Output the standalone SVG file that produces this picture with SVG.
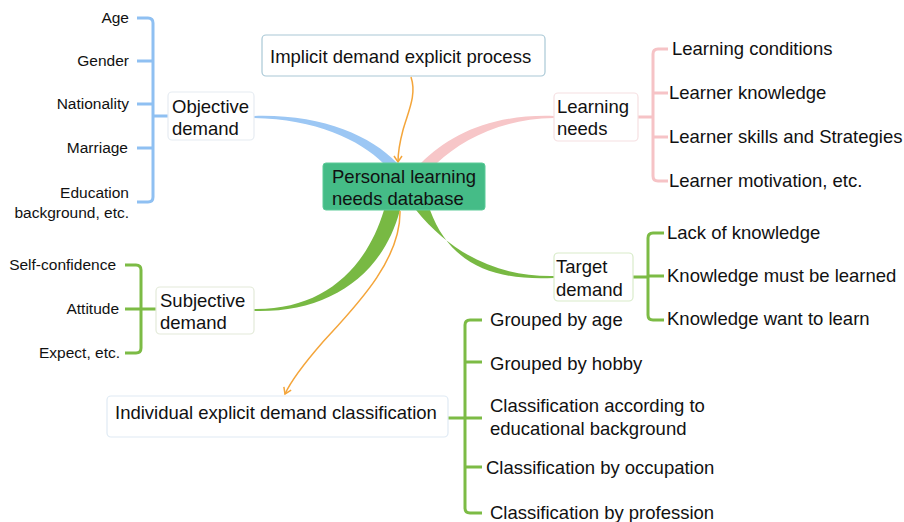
<svg xmlns="http://www.w3.org/2000/svg" width="904" height="522" viewBox="0 0 904 522">
<style>
text{font-family:"Liberation Sans",Arial,sans-serif;fill:#111}
.m{font-size:18.5px}
.s{font-size:15.5px}
.r{text-anchor:end}
.br{fill:none;stroke-width:3;stroke-linecap:butt}
.blue{stroke:#8fc0f2}
.pink{stroke:#f6c3c6}
.green{stroke:#7cbb45}
.box{fill:#fff;stroke-width:1.2}
.orange{fill:none;stroke:#f4a53a;stroke-width:1.5}
</style>
<defs>
<marker id="ah" markerWidth="10" markerHeight="10" refX="7" refY="5" orient="auto" markerUnits="userSpaceOnUse">
<path d="M1,1 L7,5 L1,9" fill="none" stroke="#f4a53a" stroke-width="1.5"/>
</marker>
</defs>
<rect width="904" height="522" fill="#fff"/>
<g id="connectors">
<path d="M254,116 C320,114 370,135 397,163 L383,163 C360,140 315,119 254,118 Z" fill="#9cc7f4"/>
<path d="M554,116 C490,114 450,135 421,163 L437,163 C462,140 500,119 554,118 Z" fill="#f7c6c8"/>
<path d="M254,309 C322,310 366,270 384,210 L400,210 C382,278 326,313 254,311 Z" fill="#78b943"/>
<path d="M416,210 C452,255 500,277 554,276 L554,278 C495,281 450,265 430,210 Z" fill="#78b943"/>
<path class="orange" d="M411,77 C417,95 408,112 403,130 C399,145 398,152 398,162" marker-end="url(#ah)"/>
<path class="orange" d="M400,211 C401,262 352,310 322,343 C302,366 291,381 285,394" marker-end="url(#ah)"/>
<path class="br blue" d="M137,18 H148 Q153,18 153,23 V197 Q153,202 148,202 H137 M137,61 H153 M137,104 H153 M137,148 H153 M153,116 H168"/>
<path class="br pink" d="M668,49 H658 Q653,49 653,54 V176 Q653,181 658,181 H668 M653,93 H668 M653,137 H668 M638,117 H653"/>
<path class="br green" d="M664,233 H653 Q648,233 648,238 V315 Q648,320 653,320 H664 M648,276 H664 M633,277 H648"/>
<path class="br green" d="M125,265 H136 Q141,265 141,270 V348 Q141,353 136,353 H125 M125,309 H156"/>
<path class="br green" d="M482,320 H470 Q465,320 465,325 V508 Q465,513 470,513 H482 M465,362 H482 M448,418 H482 M465,467 H482"/>
</g>
<g id="center">
<rect x="323" y="163" width="162" height="47" rx="3" fill="#45bc87" stroke="#5ccb98"/>
<text class="m" x="332" y="183">Personal learning</text>
<text class="m" x="332" y="205">needs database</text>
</g>
<g id="implicit">
<rect class="box" x="262" y="35" width="283" height="41" rx="4" stroke="#a9c8d6"/>
<text class="m" x="270" y="63">Implicit demand explicit process</text>
</g>
<g id="objective">
<rect class="box" x="168" y="92" width="86" height="48" rx="4" stroke="#e6ecf2"/>
<text class="m" x="172" y="113">Objective</text>
<text class="m" x="172" y="135">demand</text>
</g>
<g id="objective-items">
<text class="s r" x="129" y="23">Age</text>
<text class="s r" x="129" y="66">Gender</text>
<text class="s r" x="129" y="109">Nationality</text>
<text class="s r" x="128" y="153">Marriage</text>
<text class="s r" x="129" y="198">Education</text>
<text class="s r" x="129" y="218">background, etc.</text>
</g>
<g id="learning-needs">
<rect class="box" x="554" y="93" width="84" height="48" rx="4" stroke="#f6e0e2"/>
<text class="m" x="557" y="113">Learning</text>
<text class="m" x="557" y="135">needs</text>
</g>
<g id="learning-items">
<text class="m" x="672" y="55">Learning conditions</text>
<text class="m" x="669" y="99">Learner knowledge</text>
<text class="m" x="669" y="143">Learner skills and Strategies</text>
<text class="m" x="669" y="187">Learner motivation, etc.</text>
</g>
<g id="target">
<rect class="box" x="554" y="253" width="79" height="48" rx="4" stroke="#d9ecca"/>
<text class="m" x="556" y="273">Target</text>
<text class="m" x="556" y="296">demand</text>
</g>
<g id="target-items">
<text class="m" x="667" y="239">Lack of knowledge</text>
<text class="m" x="667" y="282">Knowledge must be learned</text>
<text class="m" x="667" y="325">Knowledge want to learn</text>
</g>
<g id="subjective">
<rect class="box" x="156" y="287" width="98" height="47" rx="4" stroke="#e3ead9"/>
<text class="m" x="160" y="307">Subjective</text>
<text class="m" x="160" y="329">demand</text>
</g>
<g id="subjective-items">
<text class="s r" x="116" y="270">Self-confidence</text>
<text class="s r" x="119" y="314">Attitude</text>
<text class="s r" x="120" y="358">Expect, etc.</text>
</g>
<g id="individual">
<rect class="box" x="107" y="396" width="341" height="41" rx="4" stroke="#dfeaf4"/>
<text class="m" x="115" y="419">Individual explicit demand classification</text>
</g>
<g id="individual-items">
<text class="m" x="490" y="326">Grouped by age</text>
<text class="m" x="490" y="370">Grouped by hobby</text>
<text class="m" x="490" y="412">Classification according to</text>
<text class="m" x="490" y="435">educational background</text>
<text class="m" x="486" y="474">Classification by occupation</text>
<text class="m" x="490" y="519">Classification by profession</text>
</g>
</svg>
